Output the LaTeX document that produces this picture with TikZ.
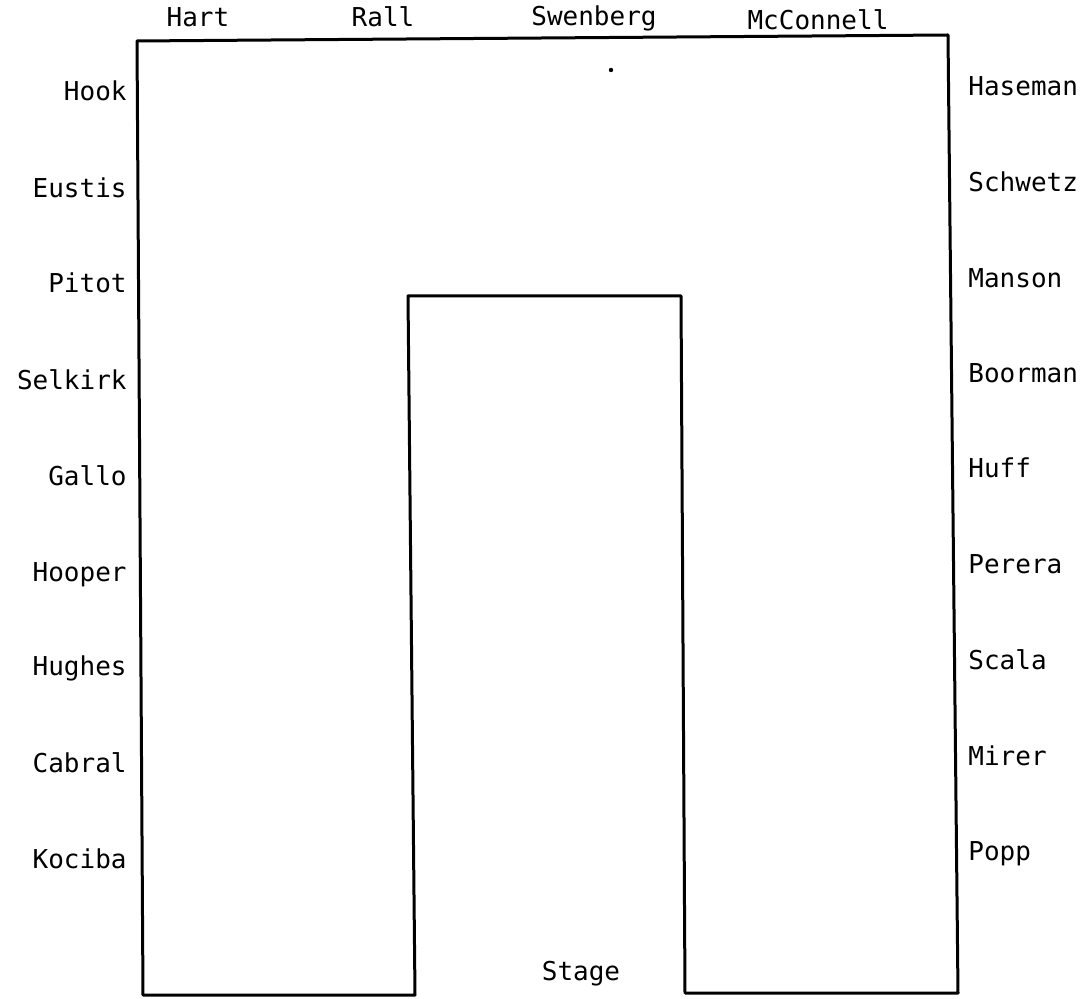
\documentclass[tikz,border=0pt]{standalone}
\usepackage{fontspec}
\setmonofont{DejaVu Sans Mono}
\usetikzlibrary{positioning}

\begin{document}
\begin{tikzpicture}[x=0.5pt, y=-0.5pt]
    \def \lx {127}
    \def \rx {968}
    \tikzstyle{every node}=[inner sep=0pt, font=\ttfamily\fontsize{13}{15}\selectfont];
    \tikzstyle{wall}=[line width=1.5pt, line cap=round, line join=round];
    \useasboundingbox (0,0) rectangle (1088,999);
    % outline of the room
    \coordinate (a1) at (143, 995);
    \coordinate (a2) at (137, 41);
    \coordinate (a3) at (948, 35);
    \coordinate (a4) at (958, 993);
    \coordinate (a5) at (685, 993);
    \coordinate (a6) at (681, 296);
    \coordinate (a7) at (408, 296);
    \coordinate (a8) at (415, 995);
    \draw[wall] (a1) -- (a2) -- (a3) -- (a4) -- (a5) -- (a6) -- (a7) -- (a8) -- cycle;
    \fill (611, 70) circle (2.2);
    % top row
    \node[anchor=base] (hart) at (198, 27) {Hart};
    \node[anchor=base] (rall) at (383, 27) {Rall};
    \node[anchor=base] (swenberg) at (594, 26) {Swenberg};
    \node[anchor=base] (mcconnell) at (818, 30) {McConnell};
    % left side
    \node[anchor=base east] (hook) at (\lx, 101) {Hook};
    \node[anchor=base east] (eustis) at (\lx, 198) {Eustis};
    \node[anchor=base east] (pitot) at (\lx, 293) {Pitot};
    \node[anchor=base east] (selkirk) at (\lx, 390) {Selkirk};
    \node[anchor=base east] (gallo) at (\lx, 486) {Gallo};
    \node[anchor=base east] (hooper) at (\lx, 582) {Hooper};
    \node[anchor=base east] (hughes) at (\lx, 676) {Hughes};
    \node[anchor=base east] (cabral) at (\lx, 773) {Cabral};
    \node[anchor=base east] (kociba) at (\lx, 869) {Kociba};
    % right side
    \node[anchor=base west] (haseman) at (\rx, 96) {Haseman};
    \node[anchor=base west] (schwetz) at (\rx, 192) {Schwetz};
    \node[anchor=base west] (manson) at (\rx, 288) {Manson};
    \node[anchor=base west] (boorman) at (\rx, 383) {Boorman};
    \node[anchor=base west] (huff) at (\rx, 478) {Huff};
    \node[anchor=base west] (perera) at (\rx, 574) {Perera};
    \node[anchor=base west] (scala) at (\rx, 670) {Scala};
    \node[anchor=base west] (mirer) at (\rx, 766) {Mirer};
    \node[anchor=base west] (popp) at (\rx, 861) {Popp};
    \node[anchor=base] (stage) at (581, 980) {Stage};
\end{tikzpicture}
\end{document}
